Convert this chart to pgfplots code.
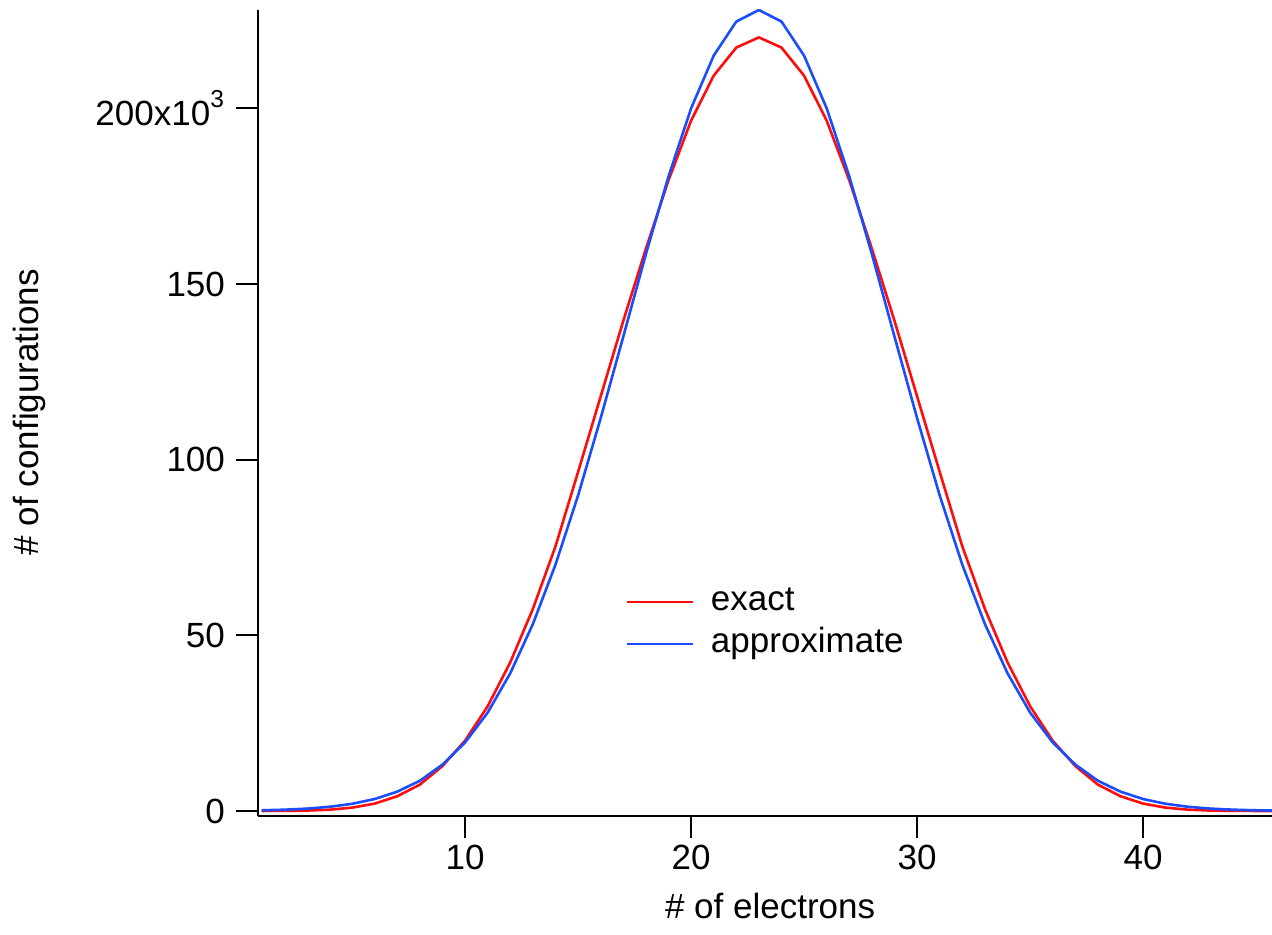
\documentclass[border=0pt]{standalone}
\usepackage{fontspec}
\setmainfont{Liberation Sans}
\usepackage{pgfplots}
\pgfplotsset{compat=1.18}
\definecolor{exactred}{HTML}{FF0D0D}
\definecolor{approxblue}{HTML}{1A4DFF}

\begin{document}
\begin{tikzpicture}
\begin{axis}[
 scale only axis, width=507pt, height=403pt,
 xmin=0.84, xmax=45.7, ymin=-1.42, ymax=228,
 axis x line*=bottom, axis y line*=left,
 axis line style={-, line width=1pt, black},
 tick align=outside, major tick length=11pt,
 tick style={line width=1pt, black},
 xtick={10,20,30,40}, ytick={0,50,100,150,200},
 yticklabels={0,50,100,150,{200x10\raisebox{0.15em}{\textsuperscript{3}}}},
 yticklabel style={xshift=-2pt},
 minor tick num=0,
 /pgf/number format/assume math mode=true,
 tick label style={font=\fontsize{17.5}{21}\selectfont},
 label style={font=\fontsize{17.5}{21}\selectfont},
 xlabel={\# of electrons}, ylabel={\# of configurations},
 xlabel style={at={(axis description cs:0.505,-0.112)}, anchor=center},
 ylabel style={at={(axis description cs:-0.225,0.501)}, anchor=center},
 legend style={draw=none, fill=none, at={(axis description cs:0.356,0.294)},
   anchor=north west, font=\fontsize{17.5}{21}\selectfont,
   row sep=2.5pt, nodes={inner sep=1.5pt, text height=12pt, text depth=3.5pt}},
 legend cell align=left,
 legend image code/.code={\draw[#1] (0pt,0pt) -- (33pt,0pt); \path (40pt,0pt);},
 clip=true,
]
\addplot[exactred, line width=1.3pt] coordinates {
 (1,0.01) (2,0.04) (3,0.12) (4,0.37) (5,0.95) (6,2.1) (7,4.2) (8,7.5)
 (9,12.8) (10,20.0) (11,29.8) (12,42.3) (13,57.5) (14,75.3) (15,96.5)
 (16,118) (17,139.5) (18,160) (19,179.5) (20,196.5) (21,209.3) (22,217.3)
 (23,220.2) (24,217.3) (25,209.3) (26,196.5) (27,179.5) (28,160) (29,139.5)
 (30,118) (31,96.5) (32,75.3) (33,57.5) (34,42.3) (35,29.8) (36,20.0)
 (37,12.8) (38,7.5) (39,4.2) (40,2.1) (41,0.95) (42,0.37) (43,0.12)
 (44,0.04) (45,0.01) (46,0.0)};
\addlegendentry{exact}
\addplot[approxblue, line width=1.3pt] coordinates {
 (1,0.2) (2,0.37) (3,0.67) (4,1.19) (5,2.04) (6,3.4) (7,5.5) (8,8.6)
 (9,13.2) (10,19.5) (11,28.0) (12,39.2) (13,53.2) (14,70.1) (15,89.8)
 (16,111.8) (17,135.0) (18,158.5) (19,180.6) (20,200.0) (21,215.0) (22,224.7)
 (23,228.0) (24,224.7) (25,215.0) (26,200.0) (27,180.6) (28,158.5) (29,135.0)
 (30,111.8) (31,89.8) (32,70.1) (33,53.2) (34,39.2) (35,28.0) (36,19.5)
 (37,13.2) (38,8.6) (39,5.5) (40,3.4) (41,2.04) (42,1.19) (43,0.67)
 (44,0.37) (45,0.2) (46,0.11)};
\addlegendentry{approximate}
\coordinate (O) at (rel axis cs:0,0);
\coordinate (T) at (rel axis cs:1,1);
\end{axis}
\pgfresetboundingbox
\path ([shift={(-129pt,-59.5pt)}]O) rectangle ([shift={(0pt,5pt)}]T);
\end{tikzpicture}
\end{document}
